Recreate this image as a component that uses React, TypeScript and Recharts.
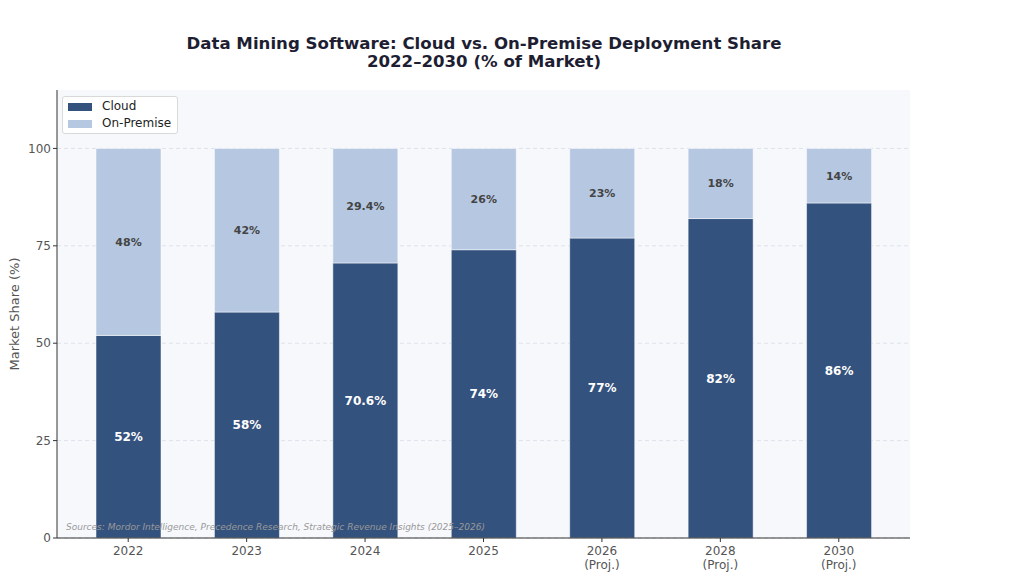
import React from "react";
import { BarChart, Bar, XAxis, YAxis, CartesianGrid, LabelList } from "recharts";

const years = ["2022", "2023", "2024", "2025", "2026", "2028", "2030"];
const yearNotes = ["", "", "", "", "(Proj.)", "(Proj.)", "(Proj.)"];
const cloudShare = [52, 58, 70.6, 74, 77, 82, 86];
const onPremShare = [48, 42, 29.4, 26, 23, 18, 14];
const yTicks = [0, 25, 50, 75, 100];

const CLOUD = "#34527e";
const ONPREM = "#b6c8e1";
const FONT = "'DejaVu Sans', sans-serif";

const data = years.map((y, i) => ({
  year: y,
  note: yearNotes[i],
  cloud: cloudShare[i],
  onprem: onPremShare[i],
}));

const XTick = (props: any) => {
  const { x, y, payload, index } = props;
  const note = yearNotes[payload.index ?? index] || "";
  return (
    <g transform={`translate(${x},${y})`}>
      <text x={0} y={0} dy={11} textAnchor="middle" fill="#555" fontSize={12} fontFamily={FONT}>
        {payload.value}
      </text>
      {note ? (
        <text x={0} y={0} dy={25} textAnchor="middle" fill="#555" fontSize={12} fontFamily={FONT}>
          {note}
        </text>
      ) : null}
    </g>
  );
};

const LegendBox = () => (
  <div
    style={{
      position: "absolute",
      left: 62,
      top: 96,
      background: "rgba(255,255,255,0.9)",
      border: "1px solid #d9d9d9",
      borderRadius: 3,
      padding: "1px 6px 1px 5px",
      fontFamily: FONT,
      fontSize: 12,
      color: "#222",
      lineHeight: "17px",
    }}
  >
    {[
      { c: CLOUD, t: "Cloud" },
      { c: ONPREM, t: "On-Premise" },
    ].map((it) => (
      <div key={it.t} style={{ display: "flex", alignItems: "center" }}>
        <span style={{ display: "inline-block", width: 24, height: 8, background: it.c, marginRight: 10 }} />
        <span>{it.t}</span>
      </div>
    ))}
  </div>
);

export default function App() {
  return (
    <div style={{ position: "absolute", left: 0, top: 0, width: 1024, height: 580, background: "#fff" }}>
      <BarChart
        width={1024}
        height={580}
        data={data}
        margin={{ top: 90, right: 114, bottom: 12, left: 17 }}
      >
        <CartesianGrid
          vertical={false}
          fill="#f7f8fc"
          stroke="#dde2ea"
          strokeDasharray="4 3"
          syncWithTicks
        />
        <XAxis
          dataKey="year"
          height={30}
          tick={<XTick />}
          interval={0}
          padding={{ left: 12, right: 12 }}
          axisLine={{ stroke: "#333" }}
          tickLine={{ stroke: "#333" }}
          tickSize={4}
        />
        <YAxis
          width={40}
          domain={[0, 115]}
          ticks={yTicks}
          allowDataOverflow
          axisLine={{ stroke: "#333" }}
          tickLine={{ stroke: "#333" }}
          tickSize={4}
          tick={{ fill: "#555", fontSize: 12, fontFamily: FONT }}
        />
        <Bar dataKey="cloud" stackId="a" fill={CLOUD} barSize={65} stroke="#ffffff" strokeWidth={0.5} isAnimationActive={false}>
          <LabelList
            dataKey="cloud"
            position="center"
            formatter={(v: any) => `${v}%`}
            fill="#ffffff"
            fontSize={12}
            fontWeight="bold"
            fontFamily={FONT}
          />
        </Bar>
        <Bar dataKey="onprem" stackId="a" fill={ONPREM} barSize={65} stroke="#ffffff" strokeWidth={0.5} isAnimationActive={false}>
          <LabelList
            dataKey="onprem"
            position="center"
            formatter={(v: any) => `${v}%`}
            fill="#444"
            fontSize={11}
            fontWeight="bold"
            fontFamily={FONT}
          />
        </Bar>
      </BarChart>
      <LegendBox />
      <svg
        width={1024}
        height={580}
        style={{ position: "absolute", left: 0, top: 0, pointerEvents: "none" }}
      >
        <text x={484} y={49} textAnchor="middle" fontFamily={FONT} fontSize={16.6} fontWeight="bold" fill="#1e1e32">
          Data Mining Software: Cloud vs. On-Premise Deployment Share
        </text>
        <text x={484} y={67} textAnchor="middle" fontFamily={FONT} fontSize={16.6} fontWeight="bold" fill="#1e1e32">
          2022–2030 (% of Market)
        </text>
        <text
          transform="translate(19,314) rotate(-90)"
          textAnchor="middle"
          fontFamily={FONT}
          fontSize={13}
          fill="#555"
        >
          Market Share (%)
        </text>
        <text x={66} y={530} fontFamily={FONT} fontSize={9} fontStyle="italic" fill="#999">
          Sources: Mordor Intelligence, Precedence Research, Strategic Revenue Insights (2025–2026)
        </text>
      </svg>
    </div>
  );
}
